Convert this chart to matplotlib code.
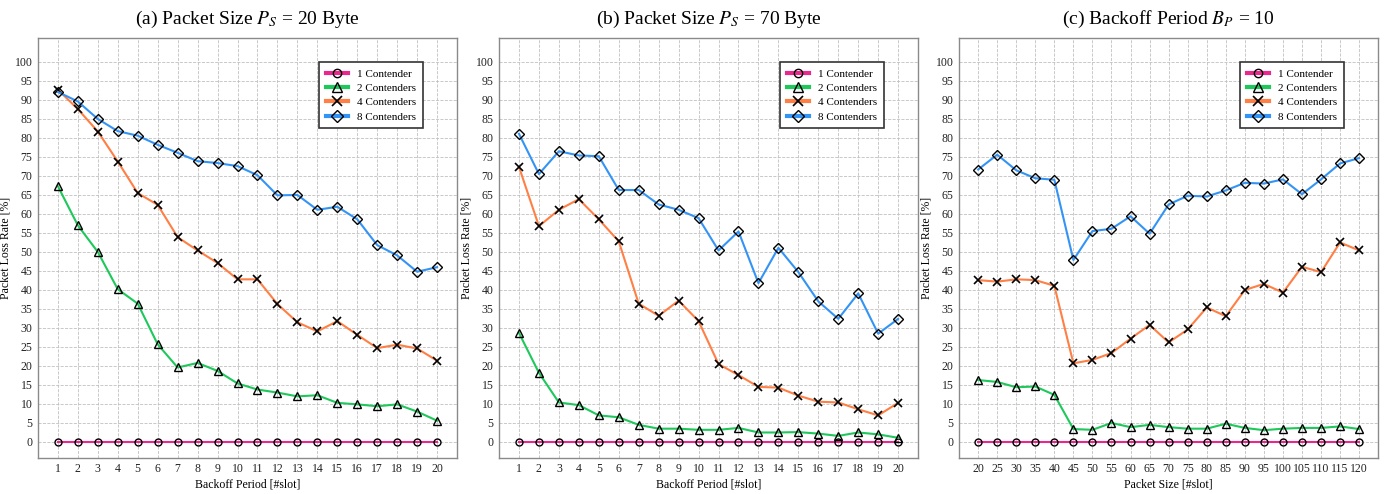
import numpy as np
import matplotlib
matplotlib.use('Agg')
import matplotlib.pyplot as plt

plt.rcParams['font.family'] = ['Liberation Serif', 'DejaVu Serif']
plt.rcParams['mathtext.fontset'] = 'stix'

backoff = list(range(1, 21))
pkt_size = list(range(20, 121, 5))

# (a) packet size 20 byte
a_c1 = [0] * 20
a_c2 = [67.3, 57.0, 50.0, 40.2, 36.4, 25.7, 19.6, 20.8, 18.7, 15.4,
        13.8, 13.0, 12.0, 12.3, 10.3, 9.9, 9.4, 9.9, 8.0, 5.6]
a_c4 = [92.7, 87.6, 81.7, 73.8, 65.5, 62.4, 53.9, 50.4, 47.1, 42.8,
        42.8, 36.3, 31.5, 29.1, 31.8, 28.2, 24.7, 25.6, 24.6, 21.4]
a_c8 = [92.1, 89.6, 85.0, 81.8, 80.6, 78.2, 76.1, 73.9, 73.4, 72.6,
        70.2, 64.9, 65.0, 61.1, 61.9, 58.6, 51.8, 49.1, 44.8, 46.0]

# (b) packet size 70 byte
b_c1 = [0] * 20
b_c2 = [28.7, 18.2, 10.4, 9.7, 7.0, 6.5, 4.5, 3.5, 3.5, 3.2,
        3.2, 3.7, 2.5, 2.5, 2.6, 2.2, 1.6, 2.5, 2.0, 1.1]
b_c4 = [72.4, 56.8, 61.1, 63.9, 58.6, 52.8, 36.4, 33.2, 37.2, 31.8,
        20.5, 17.6, 14.5, 14.3, 12.2, 10.6, 10.4, 8.6, 7.0, 10.3]
b_c8 = [81.1, 70.5, 76.5, 75.4, 75.2, 66.3, 66.3, 62.5, 61.1, 58.9,
        50.4, 55.4, 41.8, 51.1, 44.7, 37.0, 32.4, 39.1, 28.5, 32.4]

# (c) backoff period 10
c_c1 = [0] * 21
c_c2 = [16.3, 15.8, 14.4, 14.6, 12.4, 3.4, 3.2, 5.0, 3.9, 4.5, 3.9,
        3.5, 3.5, 4.8, 3.7, 3.1, 3.5, 3.7, 3.7, 4.1, 3.4]
c_c4 = [42.6, 42.2, 42.8, 42.6, 41.1, 20.7, 21.6, 23.4, 27.2, 30.8, 26.2,
        29.6, 35.4, 33.1, 40.0, 41.6, 39.3, 46.1, 44.7, 52.5, 50.4]
c_c8 = [71.7, 75.6, 71.5, 69.4, 69.0, 47.9, 55.5, 56.1, 59.4, 54.8, 62.5,
        64.8, 64.6, 66.2, 68.2, 68.0, 69.1, 65.2, 69.1, 73.3, 74.7]

labels = ['1 Contender', '2 Contenders', '4 Contenders', '8 Contenders']
colors = ['#e8288c', '#1ec85a', '#ff7f45', '#3394f5']
markers = ['o', '^', 'x', 'D']
msizes = [5, 6, 6, 5.5]

panels = [
    (backoff, [a_c1, a_c2, a_c4, a_c8], r'(a) Packet Size $P_S$ = 20 Byte', 'Backoff Period [#slot]', (0, 21)),
    (backoff, [b_c1, b_c2, b_c4, b_c8], r'(b) Packet Size $P_S$ = 70 Byte', 'Backoff Period [#slot]', (0, 21)),
    (pkt_size, [c_c1, c_c2, c_c4, c_c8], r'(c) Backoff Period $B_P$ = 10', 'Packet Size [#slot]', (15, 125)),
]

fig = plt.figure(figsize=(13.9, 4.94), dpi=100)
lefts = [0.0273, 0.359, 0.690]

for left, (xs, series, title, xlabel, xlim) in zip(lefts, panels):
    ax = fig.add_axes([left, 0.073, 0.3015, 0.850])
    for ys, lab, col, mk, ms in zip(series, labels, colors, markers, msizes):
        if mk == 'x':
            ax.plot(xs, ys, color=col, lw=1.5, marker=mk, ms=ms, mec='black',
                    mew=1.2, label=lab)
        else:
            ax.plot(xs, ys, color=col, lw=1.5, marker=mk, ms=ms, mfc='none',
                    mec='black', mew=1.0, label=lab)
    ax.set_xlim(*xlim)
    ax.set_ylim(-4.2, 106.3)
    ax.set_xticks(xs)
    ax.set_yticks(range(0, 101, 5))
    ax.tick_params(labelsize=8.5, length=0, colors='#222222', pad=4)
    ax.grid(True, ls='--', lw=0.6, color='#c0c0c0')
    for sp in ax.spines.values():
        sp.set_color('#8a8a8a')
        sp.set_linewidth(1.0)
    ax.set_xlabel(xlabel, fontsize=8.5, labelpad=2)
    ax.set_ylabel('Packet Loss Rate [%]', fontsize=8.5, labelpad=2)
    ax.set_title(title, fontsize=14, pad=10)
    leg = ax.legend(loc='upper right', bbox_to_anchor=(0.931, 0.955), fontsize=8,
                    fancybox=False, framealpha=1, edgecolor='#333333',
                    handlelength=2.0, handletextpad=0.8, borderpad=0.6,
                    labelspacing=0.4, markerscale=1.2)
    leg.get_frame().set_linewidth(1.2)
    for line in leg.get_lines():
        line.set_linewidth(3)

plt.savefig('out.png', dpi=100)
